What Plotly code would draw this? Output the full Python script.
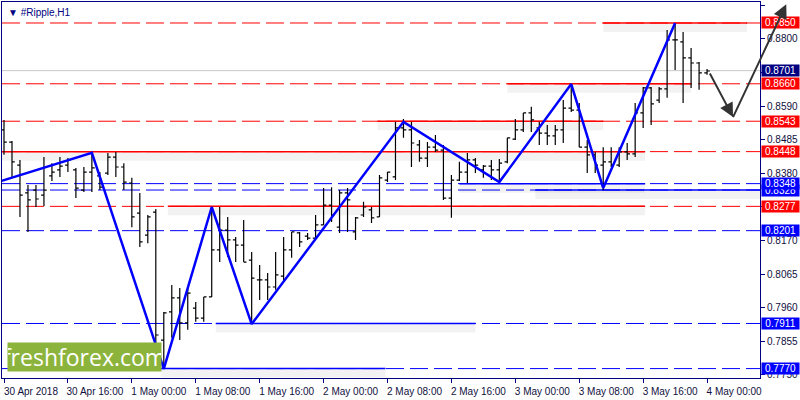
import pandas as pd
import plotly.graph_objects as go

# H1 bars, first bar 30 Apr 2018 08:00
start = "2018-04-30 08:00"
opens = [0.8516, 0.8478, 0.8406, 0.8319, 0.8328, 0.8312, 0.8372, 0.8391, 0.8406, 0.8391,
         0.8328, 0.8384, 0.8372, 0.8381, 0.8431, 0.8400, 0.8350, 0.8256, 0.8187, 0.8259,
         0.7859, 0.7947, 0.7991, 0.7913, 0.7959, 0.7928, 0.7994, 0.8141, 0.8203, 0.8172,
         0.8156, 0.8109, 0.8047, 0.8047, 0.8025, 0.8059, 0.8141, 0.8194, 0.8184, 0.8178,
         0.8219, 0.8281, 0.8212, 0.8319, 0.8197, 0.8250, 0.8266, 0.8244, 0.8359, 0.8369,
         0.8522, 0.8516, 0.8469, 0.8428, 0.8462, 0.8453, 0.8303, 0.8359, 0.8384, 0.8422,
         0.8391, 0.8403, 0.8391, 0.8416, 0.8487, 0.8516, 0.8569, 0.8522, 0.8506, 0.8497,
         0.8516, 0.8584, 0.8578, 0.8462, 0.8438, 0.8406, 0.8416, 0.8406, 0.8447, 0.8441,
         0.8569, 0.8647, 0.8609, 0.8644, 0.8797, 0.8791, 0.8741, 0.8725, 0.8694]
highs = [0.8547, 0.8481, 0.8422, 0.8344, 0.8344, 0.8431, 0.8412, 0.8431, 0.8428, 0.8397,
         0.8400, 0.8444, 0.8384, 0.8444, 0.8447, 0.8412, 0.8366, 0.8319, 0.8250, 0.8269,
         0.7947, 0.8031, 0.8022, 0.8025, 0.7978, 0.7994, 0.8275, 0.8275, 0.8244, 0.8181,
         0.8234, 0.8134, 0.8094, 0.8069, 0.8134, 0.8181, 0.8197, 0.8197, 0.8194, 0.8250,
         0.8334, 0.8337, 0.8328, 0.8334, 0.8244, 0.8291, 0.8275, 0.8375, 0.8384, 0.8541,
         0.8550, 0.8541, 0.8484, 0.8478, 0.8500, 0.8469, 0.8375, 0.8416, 0.8444, 0.8428,
         0.8406, 0.8422, 0.8425, 0.8491, 0.8550, 0.8569, 0.8588, 0.8541, 0.8531, 0.8531,
         0.8609, 0.8659, 0.8600, 0.8484, 0.8447, 0.8462, 0.8462, 0.8462, 0.8475, 0.8600,
         0.8650, 0.8650, 0.8650, 0.8828, 0.8847, 0.8822, 0.8772, 0.8728, 0.8706]
lows = [0.8438, 0.8369, 0.8244, 0.8197, 0.8275, 0.8278, 0.8356, 0.8369, 0.8384, 0.8303,
        0.8322, 0.8322, 0.8328, 0.8375, 0.8369, 0.8328, 0.8212, 0.8150, 0.8162, 0.7850,
        0.7772, 0.7866, 0.7859, 0.7891, 0.7916, 0.7916, 0.7994, 0.8103, 0.8119, 0.8103,
        0.8103, 0.7913, 0.7984, 0.7984, 0.8016, 0.8041, 0.8116, 0.8150, 0.8172, 0.8178,
        0.8219, 0.8228, 0.8194, 0.8197, 0.8172, 0.8244, 0.8225, 0.8244, 0.8353, 0.8359,
        0.8491, 0.8400, 0.8416, 0.8400, 0.8447, 0.8297, 0.8241, 0.8356, 0.8350, 0.8381,
        0.8366, 0.8359, 0.8350, 0.8412, 0.8484, 0.8509, 0.8509, 0.8469, 0.8469, 0.8469,
        0.8475, 0.8572, 0.8462, 0.8381, 0.8381, 0.8328, 0.8400, 0.8400, 0.8422, 0.8431,
        0.8522, 0.8531, 0.8600, 0.8616, 0.8703, 0.8600, 0.8647, 0.8641, 0.8688]
closes = [0.8478, 0.8416, 0.8312, 0.8297, 0.8300, 0.8328, 0.8384, 0.8403, 0.8422, 0.8334,
          0.8384, 0.8397, 0.8337, 0.8431, 0.8400, 0.8353, 0.8244, 0.8166, 0.8244, 0.7875,
          0.7944, 0.7991, 0.7913, 0.8006, 0.7928, 0.7994, 0.8141, 0.8203, 0.8172, 0.8156,
          0.8103, 0.8053, 0.8047, 0.8025, 0.8063, 0.8141, 0.8197, 0.8166, 0.8178, 0.8219,
          0.8281, 0.8250, 0.8319, 0.8297, 0.8241, 0.8275, 0.8241, 0.8366, 0.8384, 0.8522,
          0.8516, 0.8475, 0.8428, 0.8462, 0.8453, 0.8303, 0.8359, 0.8384, 0.8422, 0.8406,
          0.8403, 0.8391, 0.8412, 0.8491, 0.8516, 0.8569, 0.8547, 0.8506, 0.8497, 0.8516,
          0.8584, 0.8578, 0.8462, 0.8438, 0.8406, 0.8416, 0.8406, 0.8447, 0.8441, 0.8569,
          0.8647, 0.8597, 0.8644, 0.8797, 0.8797, 0.8741, 0.8725, 0.8694, 0.8700]

# levels drawn on the chart
red_levels = [0.8850, 0.8660, 0.8543, 0.8448, 0.8277]
blue_levels = [0.8348, 0.8328, 0.8201, 0.7911, 0.7770]
bid = 0.8701

# solid parts of the levels: (price, from, to, colour)
segments = [
    (0.8850, "2018-05-03 11:00", "2018-05-04 05:00", "red"),
    (0.8660, "2018-05-02 23:00", "2018-05-03 22:00", "red"),
    (0.8543, "2018-05-02 06:45", "2018-05-03 11:00", "red"),
    (0.8448, "2018-04-30 07:00", "2018-05-03 16:15", "red"),
    (0.8277, "2018-05-01 04:30", "2018-05-03 16:15", "red"),
    (0.8348, "2018-05-02 17:00", "2018-05-03 16:15", "blue"),
    (0.8328, "2018-05-03 02:30", "2018-05-04 07:00", "blue"),
    (0.7911, "2018-05-01 10:30", "2018-05-02 19:00", "blue"),
    (0.7770, "2018-05-01 03:36", "2018-05-02 07:45", "blue"),
]

zz_time = ["2018-04-30 07:37:30", "2018-04-30 19:00", "2018-05-01 04:00", "2018-05-01 10:00",
           "2018-05-01 15:00", "2018-05-02 10:00", "2018-05-02 22:00", "2018-05-03 07:00",
           "2018-05-03 11:00", "2018-05-03 20:00"]
zz_price = [0.8356, 0.8444, 0.7769, 0.8275, 0.7909, 0.8541, 0.8353, 0.8659, 0.8334, 0.8850]

# forecast arrow: start, pullback, target
fc_time = ["2018-05-04 00:15", "2018-05-04 03:15", "2018-05-04 10:00"]
fc_price = [0.8697, 0.8556, 0.8913]

tick_times = pd.date_range("2018-04-30 08:00", "2018-05-04 00:00", freq="8h")
tick_text = ["30 Apr 2018", "30 Apr 16:00", "1 May 00:00", "1 May 08:00", "1 May 16:00",
             "2 May 00:00", "2 May 08:00", "2 May 16:00", "3 May 00:00", "3 May 08:00",
             "3 May 16:00", "4 May 00:00"]

times = pd.date_range(start, periods=len(opens), freq="h")
navy = "#000080"
label_col = {"red": "#ff0000", "blue": "#0000ff"}

fig = go.Figure()

# full-width dashed levels
shapes = []
for p in red_levels + blue_levels:
    col = "red" if p in red_levels else "blue"
    shapes.append(dict(type="line", xref="paper", x0=0, x1=1, yref="y", y0=p, y1=p,
                       line=dict(color=label_col[col], width=1, dash="18px,6px"), layer="below"))
shapes.append(dict(type="line", xref="paper", x0=0, x1=1, yref="y", y0=bid, y1=bid,
                   line=dict(color="#c8c8c8", width=1), layer="below"))
# solid parts with a soft shadow
for p, t0, t1, col in segments:
    shapes.append(dict(type="line", xref="x", x0=t0, x1=t1, yref="y", ysizemode="pixel",
                       yanchor=p, y0=-5, y1=-5,
                       line=dict(color="rgba(0,0,0,0.05)", width=8), layer="below"))
    shapes.append(dict(type="line", xref="x", x0=t0, x1=t1, yref="y", y0=p, y1=p,
                       line=dict(color=label_col[col], width=1.5), layer="below"))

fig.add_trace(go.Ohlc(x=times, open=opens, high=highs, low=lows, close=closes,
                      increasing_line_color="black", decreasing_line_color="black",
                      line_width=1.2, tickwidth=0.35, hoverinfo="skip"))

fig.add_trace(go.Scatter(x=zz_time, y=zz_price, mode="lines",
                         line=dict(color="#0000ff", width=2.5), hoverinfo="skip"))

annotations = []

# price labels on the right
labels = [(p, "red") for p in red_levels] + [(p, "blue") for p in blue_levels]
labels = sorted(labels, key=lambda a: a[0] == 0.8348) + [(bid, "navy")]
for p, col in labels:
    bg = navy if col == "navy" else label_col[col]
    annotations.append(dict(x=1, xref="paper", xanchor="left", xshift=1, y=p, yref="y",
                            yanchor="middle", text=f"{p:.4f}", showarrow=False,
                            font=dict(family="Liberation Sans", size=10, color="white"),
                            bgcolor=bg, width=37, height=11, borderpad=0))

# forecast arrows (drawn over the labels)
annotations.append(dict(x=fc_time[1], y=fc_price[1], ax=fc_time[0], ay=fc_price[0],
                        xref="x", yref="y", axref="x", ayref="y", text="", showarrow=True,
                        arrowhead=2, arrowsize=1.4, arrowwidth=2, arrowcolor="#333333"))
annotations.append(dict(x=fc_time[1], y=fc_price[1], ax=fc_time[2], ay=fc_price[2],
                        xref="x", yref="y", axref="x", ayref="y", text="", showarrow=True,
                        arrowside="start", startarrowhead=2, startarrowsize=1.4,
                        arrowwidth=2, arrowcolor="#333333"))

annotations.append(dict(x=0, y=1, xref="paper", yref="paper", xanchor="left", yanchor="top",
                        xshift=4, yshift=-3, text="▼ #Ripple,H1", showarrow=False,
                        font=dict(family="Liberation Sans", size=10, color=navy)))
annotations.append(dict(x=0, y=0, xref="paper", yref="paper", xanchor="left", yanchor="bottom",
                        xshift=5, yshift=6, text="freshforex.com", showarrow=False,
                        font=dict(family="Open Sans", size=23, color="white"),
                        bgcolor="#8cb43c", width=153, height=28, borderpad=0))

fig.update_layout(
    width=800, height=400,
    margin=dict(l=2, r=40, t=2, b=22),
    paper_bgcolor="white", plot_bgcolor="white",
    showlegend=False,
    shapes=shapes,
    annotations=annotations,
    font=dict(family="Liberation Sans", size=10, color="#101040"),
    xaxis=dict(range=["2018-04-30 07:45", "2018-05-04 06:37:30"], rangeslider=dict(visible=False),
               tickvals=tick_times, ticktext=tick_text, ticklabelshift=27,
               ticks="outside", ticklen=4, tickcolor=navy, showgrid=False,
               showline=True, linecolor=navy, linewidth=1, mirror=True, zeroline=False),
    yaxis=dict(range=[0.77406, 0.89156], side="right", tick0=0.7750, dtick=0.0105,
               tickformat=".4f", ticks="outside", ticklen=4, tickcolor=navy, showgrid=False,
               showline=True, linecolor=navy, linewidth=1, mirror=True, zeroline=False),
)

# page body has a default margin; drop it so the 800x400 figure fills the window
fig.write_html("out.html", config={"displayModeBar": False},
               post_script="document.body.style.margin='0';")
